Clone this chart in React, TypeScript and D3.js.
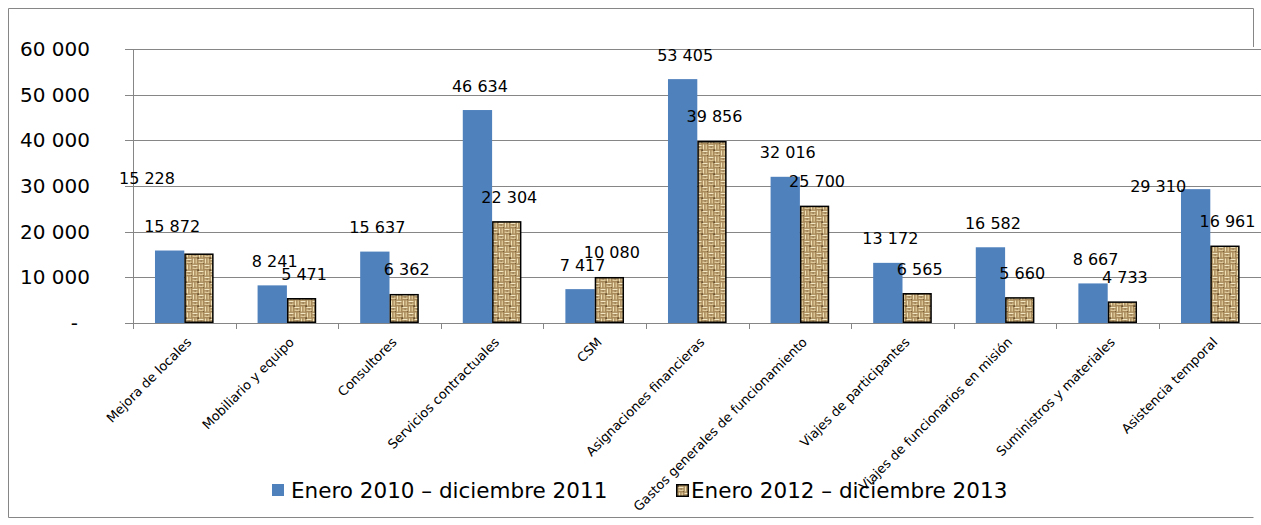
import React from "react";
import * as d3 from "d3";

// Gasto por objeto de gasto, dos bienios
const categories: string[] = [
  "Mejora de locales",
  "Mobiliario y equipo",
  "Consultores",
  "Servicios contractuales",
  "CSM",
  "Asignaciones financieras",
  "Gastos generales de funcionamiento",
  "Viajes de participantes",
  "Viajes de funcionarios en misión",
  "Suministros y materiales",
  "Asistencia temporal",
];
const serie2010_2011: number[] = [15872, 8241, 15637, 46634, 7417, 53405, 32016, 13172, 16582, 8667, 29310];
const serie2012_2013: number[] = [15228, 5471, 6362, 22304, 10080, 39856, 25700, 6565, 5660, 4733, 16961];
const seriesNames: string[] = ["Enero 2010 – diciembre 2011", "Enero 2012 – diciembre 2013"];
const yTicks: number[] = [0, 10000, 20000, 30000, 40000, 50000, 60000];

// Etiquetas desplazadas a mano: clave "categoría-serie" -> [dx, dy] en px
const labelShift: Record<string, [number, number]> = {
  "0-1": [-54.5, -51.3],
  "10-0": [-40, 21.5],
};

const W = 1261;
const H = 525;
const FONT = "'DejaVu Sans', Verdana, sans-serif";
const BLUE = "#4f81bd";
const GRID = "#868686";

const esLocale = d3.formatLocale({ decimal: ",", thousands: " ", grouping: [3], currency: ["", ""] });
const fmt = esLocale.format(",d");

export default function App() {
  const plotLeft = 133;
  const plotRight = 1261.6;
  const plotTop = 49;
  const plotBottom = 323;

  const y = d3.scaleLinear().domain([0, 60000]).range([plotBottom, plotTop]);
  const x0 = d3.scaleBand<string>().domain(categories).range([plotLeft, plotRight]).padding(0);
  const step = x0.bandwidth();
  const barW = step / 3.5;
  const x1 = d3.scaleBand<number>().domain([0, 1]).range([0, 2 * barW]).padding(0);
  const series = [serie2010_2011, serie2012_2013];

  return (
    <svg
      width={W}
      height={H}
      style={{ position: "absolute", left: 0, top: 0, display: "block", background: "#fff" }}
      fontFamily={FONT}
    >
      <defs>
        <pattern id="arpillera" width="12" height="12" patternUnits="userSpaceOnUse">
          <rect width="12" height="12" fill="#a88a5a" />
          {/* tejido de cesta: celdas alternas con hebras horizontales y verticales */}
          <line x1="0.5" y1="1.5" x2="5.5" y2="1.5" stroke="#f3e6c2" strokeWidth="1.3" />
          <line x1="0.5" y1="4.2" x2="5.5" y2="4.2" stroke="#e8d6a8" strokeWidth="1.3" />
          <line x1="6.5" y1="7.5" x2="11.5" y2="7.5" stroke="#f3e6c2" strokeWidth="1.3" />
          <line x1="6.5" y1="10.2" x2="11.5" y2="10.2" stroke="#e8d6a8" strokeWidth="1.3" />
          <line x1="7.5" y1="0.5" x2="7.5" y2="5.5" stroke="#f0e0b6" strokeWidth="1.3" />
          <line x1="10.2" y1="0.5" x2="10.2" y2="5.5" stroke="#e2cd9c" strokeWidth="1.3" />
          <line x1="1.5" y1="6.5" x2="1.5" y2="11.5" stroke="#f0e0b6" strokeWidth="1.3" />
          <line x1="4.2" y1="6.5" x2="4.2" y2="11.5" stroke="#e2cd9c" strokeWidth="1.3" />
          <rect x="5.4" y="5.4" width="1.4" height="1.4" fill="#4a3319" />
          <rect x="11.3" y="11.3" width="1.2" height="1.2" fill="#4a3319" />
          <rect x="2.6" y="2.6" width="1" height="1" fill="#6b4d27" />
          <rect x="8.6" y="8.6" width="1" height="1" fill="#6b4d27" />
        </pattern>
      </defs>

      {/* marco exterior */}
      <g stroke={GRID} strokeWidth={1} fill="none">
        <line x1={8.5} y1={8.5} x2={1253.5} y2={8.5} />
        <line x1={8.5} y1={8.5} x2={8.5} y2={517.5} />
        <line x1={8.5} y1={517.5} x2={1253.5} y2={517.5} />
        <line x1={1253.5} y1={8.5} x2={1253.5} y2={47} />
      </g>

      {/* líneas de cuadrícula y etiquetas del eje Y */}
      {yTicks.map((t) => (
        <g key={t}>
          <line x1={125} x2={W} y1={Math.round(y(t)) + 0.5} y2={Math.round(y(t)) + 0.5} stroke={GRID} strokeWidth={1} />
          <text
            x={t === 0 ? 78 : 90}
            y={y(t)}
            dominantBaseline="central"
            textAnchor="end"
            fontSize={20}
            fill="#000"
          >
            {t === 0 ? "-" : fmt(t)}
          </text>
        </g>
      ))}

      {/* eje Y */}
      <line x1={plotLeft + 0.5} x2={plotLeft + 0.5} y1={plotTop} y2={plotBottom + 5} stroke={GRID} strokeWidth={1} />

      {/* marcas del eje X entre categorías */}
      {categories.map((c) => (
        <line
          key={"tk" + c}
          x1={Math.round(x0(c)!) + 0.5}
          x2={Math.round(x0(c)!) + 0.5}
          y1={plotBottom}
          y2={plotBottom + 6}
          stroke={GRID}
          strokeWidth={1}
        />
      ))}

      {/* barras */}
      {categories.map((c, i) => {
        const gx = x0(c)! + (step - 2 * barW) / 2;
        return (
          <g key={"b" + c}>
            <rect
              x={gx + x1(0)!}
              y={y(serie2010_2011[i])}
              width={barW}
              height={y(0) - y(serie2010_2011[i])}
              fill={BLUE}
            />
            <rect
              x={gx + x1(1)! + 0.75}
              y={y(serie2012_2013[i]) + 0.75}
              width={barW - 1.5}
              height={y(0) - y(serie2012_2013[i]) - 1.5}
              fill="url(#arpillera)"
              stroke="#000"
              strokeWidth={1.5}
            />
          </g>
        );
      })}

      {/* etiquetas de valor */}
      {categories.map((c, i) => {
        const gx = x0(c)! + (step - 2 * barW) / 2;
        return series.map((s, k) => {
          const [sx, sy] = labelShift[`${i}-${k}`] ?? [0, 0];
          const cx = gx + x1(k)! + barW / 2 + 2.5 + sx;
          const cy = y(s[i]) - 24 + sy;
          return (
            <text
              key={`l${i}-${k}`}
              x={cx}
              y={cy}
              textAnchor="middle"
              dominantBaseline="central"
              fontSize={16}
              fill="#000"
            >
              {fmt(s[i])}
            </text>
          );
        });
      })}

      {/* etiquetas de categoría giradas */}
      {categories.map((c) => {
        const cx = x0(c)! + step / 2 + 8;
        const cy = 343;
        return (
          <text
            key={"c" + c}
            x={cx}
            y={cy}
            textAnchor="end"
            fontSize={13}
            fill="#000"
            transform={`rotate(-45 ${cx} ${cy})`}
          >
            {c}
          </text>
        );
      })}

      {/* leyenda */}
      <g>
        <rect x={272} y={484} width={12} height={12} fill={BLUE} />
        <text x={291} y={490} dominantBaseline="central" fontSize={21.5} fill="#000">
          {seriesNames[0]}
        </text>
        <rect x={676.75} y={484.75} width={11.5} height={11.5} fill="url(#arpillera)" stroke="#000" strokeWidth={1.5} />
        <text x={691} y={490} dominantBaseline="central" fontSize={21.5} fill="#000">
          {seriesNames[1]}
        </text>
      </g>
    </svg>
  );
}
